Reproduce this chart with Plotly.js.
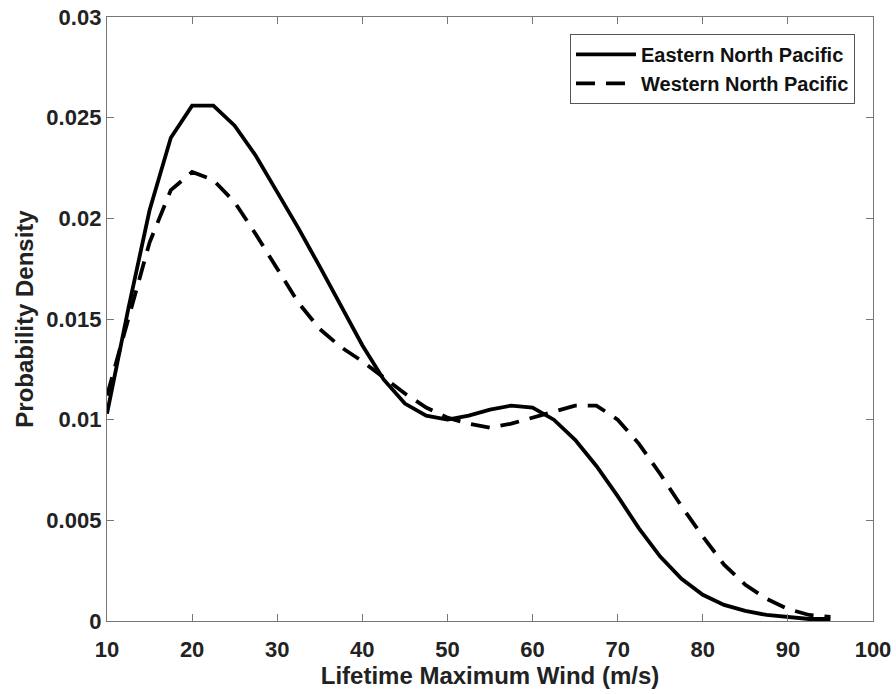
<!DOCTYPE html>
<html><head><meta charset="utf-8">
<script src="https://cdn.plot.ly/plotly-3.0.1.min.js"></script>
<style>html,body{margin:0;padding:0;background:#fff;}#chart{width:896px;height:694px;}</style>
</head><body><div id="chart"></div>
<script>
const windSpeed = [10,12.5,15,17.5,20,22.5,25,27.5,30,32.5,35,37.5,40,42.5,45,47.5,50,52.5,55,57.5,60,62.5,65,67.5,70,72.5,75,77.5,80,82.5,85,87.5,90,92.5,95];
const eastern = [0.0103,0.0155,0.0204,0.0240,0.0256,0.0256,0.0246,0.0231,0.0213,0.0195,0.0176,0.0156,0.0137,0.0120,0.0108,0.0102,0.0100,0.0102,0.0105,0.0107,0.0106,0.0100,0.0090,0.0077,0.0062,0.0046,0.0032,0.0021,0.0013,0.0008,0.0005,0.0003,0.0002,0.0001,0.0001];
const western = [0.0112,0.0150,0.0188,0.0214,0.0223,0.0219,0.0208,0.0192,0.0175,0.0158,0.0145,0.0136,0.0129,0.0121,0.0113,0.0106,0.0101,0.0098,0.0096,0.0098,0.0101,0.0104,0.0107,0.0107,0.0100,0.0088,0.0073,0.0057,0.0042,0.0028,0.0018,0.0011,0.0006,0.0003,0.0002];
const seriesNames = ['Eastern North Pacific','Western North Pacific'];
const yTickVals = [0,0.005,0.01,0.015,0.02,0.025,0.03];
const yTickText = ['0','0.005','0.01','0.015','0.02','0.025','0.03'];
const xTickVals = [10,20,30,40,50,60,70,80,90,100];

const fam = 'Liberation Sans, Arial, sans-serif';
const tickFont = {family:fam, size:22, color:'#222', weight:'bold'};
const titleFont = {family:fam, size:24, color:'#222', weight:'bold'};
const traces = [
  {x:windSpeed, y:eastern, name:seriesNames[0], mode:'lines', line:{color:'#000', width:3.8, dash:'solid'}},
  {x:windSpeed, y:western, name:seriesNames[1], mode:'lines', line:{color:'#000', width:3.8, dash:'19px,11px'}}
];
const axisCommon = {showgrid:false, zeroline:false, showline:true, linecolor:'#777', linewidth:1.2, mirror:'ticks', ticks:'inside', ticklen:7, tickcolor:'#777', tickfont:tickFont};
const layout = {
  width:896, height:694,
  margin:{l:107, r:23, t:17, b:73},
  paper_bgcolor:'#fff', plot_bgcolor:'#fff',
  font:tickFont,
  showlegend:true,
  legend:{x:0.9765, y:0.972, xanchor:'right', yanchor:'top', bgcolor:'#fff', bordercolor:'#555', borderwidth:1, itemwidth:60, font:{family:fam, size:20, color:'#111', weight:'bold'}, tracegroupgap:0},
  xaxis:Object.assign({}, axisCommon, {range:[10,100], tickvals:xTickVals, ticklabelstandoff:8, title:{text:'Lifetime Maximum Wind (m/s)', font:titleFont, standoff:2}}),
  yaxis:Object.assign({}, axisCommon, {range:[0,0.03], tickvals:yTickVals, ticktext:yTickText, title:{text:'Probability Density', font:titleFont, standoff:6}})
};
Plotly.newPlot('chart', traces, layout, {displayModeBar:false, staticPlot:true});
</script></body></html>
